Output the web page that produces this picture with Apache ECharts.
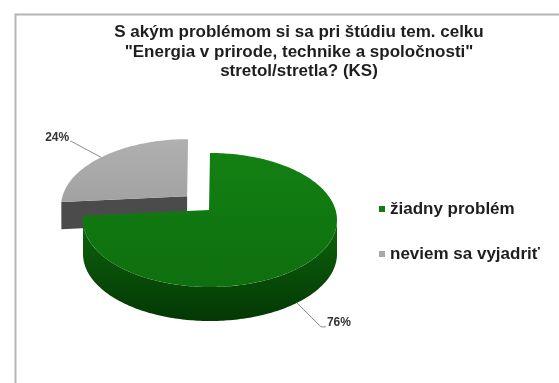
<!DOCTYPE html>
<html>
<head>
<meta charset="utf-8">
<script src="https://cdn.jsdelivr.net/npm/echarts@6/dist/echarts.min.js"></script>
<style>
html,body{margin:0;padding:0;background:#ffffff;}
#chart{width:559px;height:383px;}
</style>
</head>
<body>
<div id="chart"></div>
<script>
// ---- data ----
const titleText = 'S akým problémom si sa pri štúdiu tem. celku\n"Energia v prirode, technike a spoločnosti"\nstretol/stretla? (KS)';
const categories = ['žiadny problém', 'neviem sa vyjadriť'];
const values = [76, 24];
const valueLabels = ['76%', '24%'];

// ---- layout / style (not data) ----
const total = values.reduce((a, b) => a + b, 0);
const starts = [];
(function () { let acc = 0; values.forEach(v => { starts.push(acc); acc += v; }); })();

const P = { cx: 210, cy: 220, rx: 127, ry: 67, depth: 34, apexDx: -1, apexDy: -10 };
const sliceStyle = [
  { color: '#127a12', top: ['#138013', '#0e6f0e'], side: ['#0d640d', '#043804'], cut: '#0a500a',
    explode: 0, depthScale: 1, labelAtBottom: true, lead: [24, 24], tail: 5 },
  { color: '#a8a8a8', top: ['#b0b0b0', '#a2a2a2'], side: ['#5a5a5a', '#404040'], cut: '#4b4b4b',
    explode: 1, depthScale: 0.8, labelAtBottom: false, lead: [-30, -16], tail: -1 }
];

function grad(c) {
  return new echarts.graphic.LinearGradient(0, 0, 0, 1, [
    { offset: 0, color: c[0] }, { offset: 1, color: c[1] }
  ]);
}

function makeRender(i) {
  return function (params, api) {
    const v = api.value(0);
    const a1 = starts[i] / total * 2 * Math.PI;
    const a2 = a1 + v / total * 2 * Math.PI;
    const mid = (a1 + a2) / 2;
    const s = sliceStyle[i];
    const ox = s.explode ? Math.sin(mid) * 32 : 0;
    const oy = s.explode ? -Math.cos(mid) * 19 : 0;
    const d = P.depth * s.depthScale;
    const rim = (a, z) => [P.cx + ox + P.rx * Math.sin(a), P.cy + oy - P.ry * Math.cos(a) + z];
    const apex = z => [P.cx + ox + P.apexDx, P.cy + oy + P.apexDy + z];
    const arc = (b1, b2, z) => {
      const n = Math.max(2, Math.ceil((b2 - b1) / 0.02));
      const pts = [];
      for (let k = 0; k <= n; k++) pts.push(rim(b1 + (b2 - b1) * k / n, z));
      return pts;
    };
    const children = [];
    // radial cut faces facing the viewer
    [[a1, -1], [a2, 1]].forEach(([a, dir]) => {
      if (dir * Math.sin(a) > 0.01) {
        children.push({ type: 'polygon', shape: { points: [apex(0), rim(a, 0), rim(a, d), apex(d)] },
          style: { fill: s.cut } });
      }
    });
    // outer side (front half)
    const f1 = Math.max(a1, Math.PI / 2), f2 = Math.min(a2, 1.5 * Math.PI);
    if (f2 > f1) {
      const pts = arc(f1, f2, 0).concat(arc(f1, f2, d).reverse());
      children.push({ type: 'polygon', shape: { points: pts }, style: { fill: grad(s.side) } });
    }
    // top face
    children.push({ type: 'polygon', shape: { points: [apex(0)].concat(arc(a1, a2, 0)) },
      style: { fill: grad(s.top) } });
    // label with leader line
    const p1 = rim(mid, s.labelAtBottom ? d : 0);
    const p2 = [p1[0] + s.lead[0], p1[1] + s.lead[1]];
    const p3 = [p2[0] + s.tail, p2[1]];
    children.push({ type: 'polyline', shape: { points: [p1, p2, p3] },
      style: { stroke: '#8c8c8c', lineWidth: 1, fill: null } });
    const right = s.tail < 0;
    children.push({ type: 'text', style: {
      text: valueLabels[i], x: p3[0] + (right ? -1 : 1), y: p3[1] - 4,
      align: right ? 'right' : 'left', verticalAlign: 'middle',
      fill: '#333333', fontSize: 12, fontWeight: 'bold', fontFamily: 'Liberation Sans'
    } });
    return { type: 'group', children };
  };
}

const chart = echarts.init(document.getElementById('chart'), null, { renderer: 'canvas' });
chart.setOption({
  animation: false,
  backgroundColor: '#ffffff',
  color: sliceStyle.map(s => s.color),
  title: {
    text: titleText,
    left: 299,
    top: 23,
    padding: 0,
    textAlign: 'center',
    textStyle: { fontSize: 17, fontWeight: 'bold', fontFamily: 'Liberation Sans', color: '#1e1e1e', lineHeight: 19.5 }
  },
  legend: {
    orient: 'vertical',
    left: 379,
    top: 199,
    padding: 0,
    icon: 'rect',
    itemWidth: 6,
    itemHeight: 6,
    itemGap: 25,
    data: categories,
    selectedMode: false,
    textStyle: { fontSize: 17, fontWeight: 'bold', fontFamily: 'Liberation Sans', color: '#1e1e1e', lineHeight: 20 }
  },
  graphic: [{
    type: 'rect', left: 13, top: 12, silent: true,
    shape: { x: 0, y: 0, width: 600, height: 420 },
    style: { fill: null, stroke: '#b4b4b4', lineWidth: 2 }
  }],
  series: categories.map((name, i) => ({
    type: 'custom',
    name: name,
    coordinateSystem: 'none',
    z: i === 0 ? 3 : 2,
    silent: true,
    itemStyle: { color: sliceStyle[i].color },
    renderItem: makeRender(i),
    data: [[values[i]]]
  }))
});
</script>
</body>
</html>
